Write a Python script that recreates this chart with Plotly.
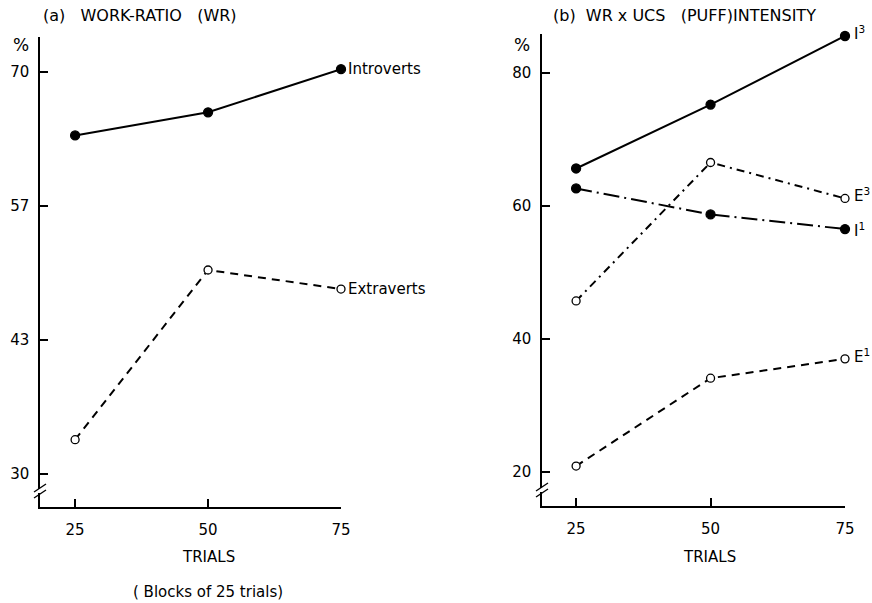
import plotly.graph_objects as go

W, H = 872, 603
def PX(x): return x / W
def PY(y): return 1 - y / H

# ---- data ----
trials = [25, 50, 75]
introverts = [63.7, 66.0, 70.3]
extraverts = [33.4, 50.3, 48.4]

i3 = [65.6, 75.2, 85.5]
i1 = [62.6, 58.7, 56.5]
e3 = [45.7, 66.5, 61.1]
e1 = [20.9, 34.1, 37.0]

left_ticks = [30, 43.33, 56.67, 70]
left_ticktext = ["30", "43", "57", "70"]
right_ticks = [20, 40, 60, 80]
x_ticks = [25, 50, 75]

FONT = "DejaVu Sans"
fig = go.Figure()

def add(x, y, xa, ya, dash, filled):
    fig.add_trace(go.Scatter(
        x=x, y=y, xaxis=xa, yaxis=ya, mode="lines+markers",
        line=dict(color="black", width=2, dash=dash),
        marker=dict(symbol="circle", size=9 if filled else 8,
                    color="black" if filled else "white",
                    line=dict(color="black", width=1.3)),
        cliponaxis=False, showlegend=False))

add(trials, introverts, "x", "y", "solid", True)
add(trials, extraverts, "x", "y", "8px,6px", False)
add(trials, i3, "x2", "y2", "solid", True)
add(trials, i1, "x2", "y2", "16px,5px,2px,5px", True)
add(trials, e3, "x2", "y2", "8px,5px,2px,5px", False)
add(trials, e1, "x2", "y2", "8px,6px", False)

ax_common = dict(showline=True, linecolor="black", linewidth=1.5,
                 ticks="inside", ticklen=8, tickwidth=1.5, tickcolor="black",
                 showgrid=False, zeroline=False, automargin=False,
                 tickfont=dict(family=FONT, size=15, color="black"))

fig.update_layout(
    width=W, height=H, margin=dict(l=0, r=0, t=0, b=0),
    plot_bgcolor="white", paper_bgcolor="white",
    xaxis=dict(domain=[PX(40), PX(341)], range=[18.4, 75], tickvals=x_ticks,
               anchor="y", ticklabelstandoff=8, **ax_common),
    yaxis=dict(domain=[PY(507), PY(37)], range=[26.7, 73.5], tickvals=left_ticks,
               ticktext=left_ticktext, anchor="x", ticklabelstandoff=6, **ax_common),
    xaxis2=dict(domain=[PX(542), PX(845)], range=[18.66, 75], tickvals=x_ticks,
                anchor="y2", ticklabelstandoff=8, **ax_common),
    yaxis2=dict(domain=[PY(506), PY(34)], range=[14.9, 85.8], tickvals=right_ticks,
                anchor="x2", ticklabelstandoff=6, **ax_common),
)

ann = []
def txt(text, x, y, xref="paper", yref="paper", xanchor="center", size=15, xshift=0, yshift=0):
    ann.append(dict(text=text, x=x, y=y, xref=xref, yref=yref, xanchor=xanchor,
                    yanchor="middle", showarrow=False, xshift=xshift, yshift=yshift,
                    font=dict(family=FONT, size=size, color="black")))

txt("(a)   WORK-RATIO   (WR)", PX(41), PY(16), xanchor="left", size=16)
txt("(b)  WR x UCS   (PUFF)INTENSITY", PX(551), PY(16), xanchor="left", size=16)
txt("%", PX(21), PY(45), size=17)
txt("%", PX(522), PY(45), size=17)
txt("TRIALS", PX(208), PY(557))
txt("TRIALS", PX(709), PY(557))
txt("( Blocks of 25 trials)", PX(208), PY(592))

txt("Introverts", 75, introverts[2], "x", "y", xanchor="left", xshift=5)
txt("Extraverts", 75, extraverts[2], "x", "y", xanchor="left", xshift=5)
txt("I<sup>3</sup>", 75, i3[2], "x2", "y2", xanchor="left", xshift=7, yshift=3)
txt("E<sup>3</sup>", 75, e3[2], "x2", "y2", xanchor="left", xshift=7, yshift=3)
txt("I<sup>1</sup>", 75, i1[2], "x2", "y2", xanchor="left", xshift=7, yshift=-1)
txt("E<sup>1</sup>", 75, e1[2], "x2", "y2", xanchor="left", xshift=7, yshift=3)
fig.update_layout(annotations=ann)

shapes = []
for ax_x, by in [(40, 491), (542, 490)]:
    shapes.append(dict(type="rect", xref="paper", yref="paper",
                       x0=PX(ax_x - 2), x1=PX(ax_x + 2), y0=PY(by + 2), y1=PY(by - 2),
                       fillcolor="white", line=dict(width=0), layer="above"))
    for dy in (-3, 3):
        shapes.append(dict(type="line", xref="paper", yref="paper",
                           x0=PX(ax_x - 6), y0=PY(by + dy + 4), x1=PX(ax_x + 6), y1=PY(by + dy - 4),
                           line=dict(color="black", width=1.3), layer="above"))
fig.update_layout(shapes=shapes)

fig.write_html("out.html")
